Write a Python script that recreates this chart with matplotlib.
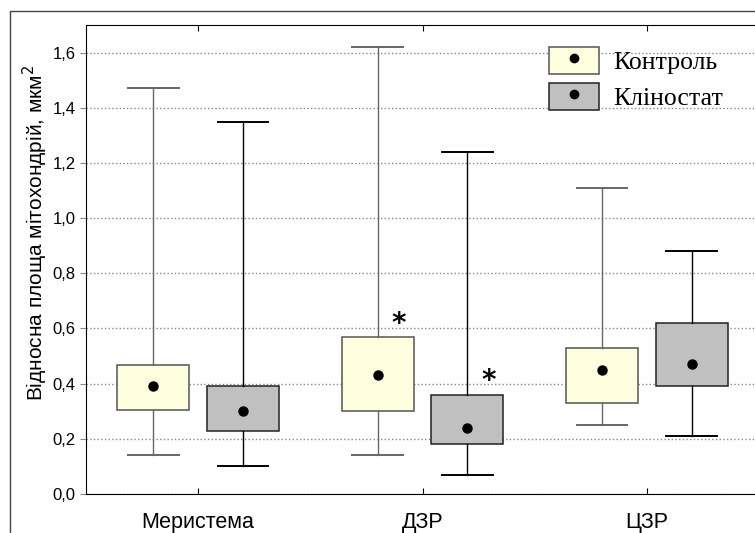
import matplotlib
matplotlib.use('Agg')
import matplotlib.pyplot as plt
from matplotlib.patches import Patch
from matplotlib.lines import Line2D
from matplotlib.ticker import FuncFormatter

groups = ['Меристема', 'ДЗР', 'ЦЗР']
series = ['Контроль', 'Кліностат']

# per group: [control, clinostat]
dot_val = [[0.39, 0.30], [0.43, 0.24], [0.45, 0.47]]
q1_val = [[0.305, 0.23], [0.30, 0.18], [0.33, 0.39]]
q3_val = [[0.467, 0.39], [0.57, 0.36], [0.53, 0.62]]
lo_val = [[0.14, 0.10], [0.14, 0.07], [0.25, 0.21]]
hi_val = [[1.47, 1.35], [1.62, 1.24], [1.11, 0.88]]

# significant differences: (group index, series index)
stars = [(1, 0), (1, 1)]

fills = ['#ffffe0', '#c0c0c0']
edges = ['#555555', '#222222']
whisk = ['#666666', '#000000']
offs = [-0.2, 0.2]

plt.rcParams['font.family'] = ['Liberation Sans', 'DejaVu Sans']

fig = plt.figure(figsize=(7.55, 5.33), dpi=100)
ax = fig.add_axes([86/755, 39/533, 673/755, 469/533])

for s in range(2):
    stats = []
    for g in range(3):
        stats.append(dict(med=dot_val[g][s], mean=dot_val[g][s],
                          q1=q1_val[g][s], q3=q3_val[g][s],
                          whislo=lo_val[g][s], whishi=hi_val[g][s]))
    pos = [g + offs[s] for g in range(3)]
    ax.bxp(stats, positions=pos, widths=0.32, capwidths=0.225,
           showmeans=True, showfliers=False, patch_artist=True,
           boxprops=dict(facecolor=fills[s], edgecolor=edges[s], linewidth=1.1),
           whiskerprops=dict(color=whisk[s], linewidth=1.0),
           capprops=dict(color=whisk[s], linewidth=1.4),
           medianprops=dict(linestyle='none'),
           meanprops=dict(marker='o', markerfacecolor='black',
                          markeredgecolor='black', markersize=6.5),
           zorder=3)

for g, s in stars:
    ax.annotate('*', xy=(g + offs[s], q3_val[g][s]), xytext=(15, 9.5),
                textcoords='offset points', ha='center', va='center',
                fontsize=20, fontweight='bold', family='DejaVu Sans')

ax.set_xlim(-0.5, 2.5)
ax.set_ylim(0, 1.7)
ax.set_xticks(range(3))
ax.set_xticklabels(groups, fontsize=15.5)
ax.set_yticks([0.2 * i for i in range(9)])
ax.yaxis.set_major_formatter(FuncFormatter(lambda v, p: f'{v:.1f}'.replace('.', ',')))
ax.tick_params(axis='y', labelsize=12, length=4, color='#888888')
ax.tick_params(axis='x', direction='in', top=True, length=4, pad=13)
ax.yaxis.grid(True, linestyle=':', color='#888888', linewidth=1)
ax.set_axisbelow(True)
ax.set_ylabel('Відносна площа мітохондрій, мкм$^2$', fontsize=15)
ax.yaxis.set_label_coords(-0.054, 0.556)

handles = [(Patch(facecolor=fills[s], edgecolor=edges[s], linewidth=1.1),
            Line2D([], [], marker='o', color='black', linestyle='none', markersize=6))
           for s in range(2)]
ax.legend(handles, series, loc='upper left', bbox_to_anchor=(0.669, 0.98),
          frameon=False, prop={'family': 'Liberation Serif', 'size': 18.5},
          handlelength=1.95, handleheight=1.25, handletextpad=0.55, labelspacing=0.33,
          borderpad=0)

# outer frame (cut off at right and bottom)
fig.add_artist(Line2D([10/755, 10/755, 1], [0, 1 - 11/533, 1 - 11/533],
                      color='#444444', linewidth=1, transform=fig.transFigure))

fig.savefig('out.png', dpi=100)
